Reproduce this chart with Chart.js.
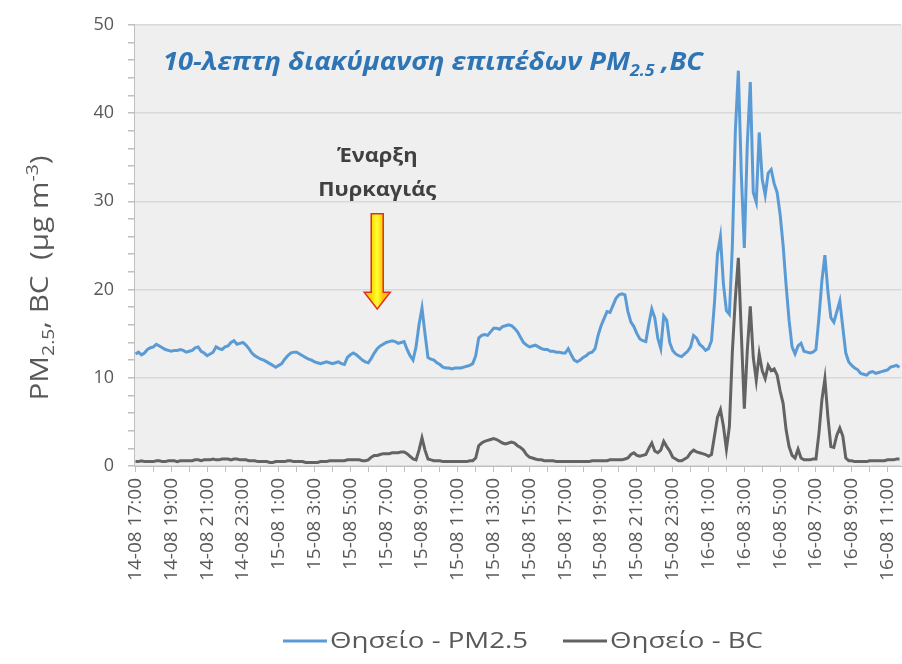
<!DOCTYPE html>
<html>
<head>
<meta charset="utf-8">
<script src="https://cdn.jsdelivr.net/npm/chart.js@4.4.1/dist/chart.umd.min.js"></script>
<style>
  html, body { margin: 0; padding: 0; background: #fff; }
  #wrap { width: 902px; height: 664px; }
</style>
</head>
<body>
<div id="wrap"><canvas id="c" width="902" height="664"></canvas></div>
<script>
// 10-min values, 14-08 17:00 -> 16-08 11:40
const pm25 = [
  12.7,12.9,12.6,12.8,13.2,13.4,
  13.5,13.8,13.6,13.4,13.2,13.1,
  13.0,13.1,13.1,13.2,13.1,12.9,
  13.0,13.1,13.4,13.5,13.0,12.8,
  12.5,12.7,12.9,13.5,13.3,13.2,
  13.5,13.6,14.0,14.2,13.8,13.9,
  14.0,13.7,13.3,12.8,12.5,12.3,
  12.1,12.0,11.8,11.6,11.4,11.2,
  11.4,11.6,12.1,12.5,12.8,12.9,
  12.9,12.7,12.5,12.3,12.1,12.0,
  11.8,11.7,11.6,11.7,11.8,11.7,
  11.6,11.7,11.8,11.6,11.5,12.3,
  12.6,12.8,12.6,12.3,12.0,11.8,
  11.7,12.2,12.8,13.3,13.6,13.8,
  14.0,14.1,14.2,14.1,13.9,14.0,
  14.1,13.2,12.5,12.0,13.5,16.0,
  17.9,15.0,12.3,12.1,12.0,11.7,
  11.5,11.2,11.1,11.1,11.0,11.1,
  11.1,11.1,11.2,11.3,11.4,11.6,
  12.5,14.5,14.8,14.9,14.8,15.2,
  15.6,15.6,15.5,15.8,15.9,16.0,
  15.9,15.6,15.2,14.6,14.0,13.7,
  13.5,13.6,13.7,13.5,13.3,13.2,
  13.2,13.0,13.0,12.9,12.9,12.8,
  12.8,13.3,12.6,12.0,11.8,12.0,
  12.3,12.5,12.8,12.9,13.3,14.8,
  15.9,16.7,17.5,17.4,18.2,19.0,
  19.4,19.5,19.4,17.5,16.3,15.8,
  15.0,14.4,14.2,14.1,16.1,17.8,
  16.8,14.5,13.3,17.0,16.5,14.0,
  13.1,12.7,12.5,12.4,12.7,13.0,
  13.5,14.8,14.5,13.8,13.5,13.1,
  13.3,14.2,18.5,24.0,26.0,20.6,
  17.6,17.2,25.0,38.0,44.8,33.0,
  24.7,36.5,43.5,31.0,29.9,37.8,
  32.5,30.7,33.2,33.6,32.0,31.0,
  28.5,25.0,20.5,16.5,13.5,12.7,
  13.6,13.9,13.0,12.9,12.8,12.9,
  13.2,16.8,21.0,23.9,19.8,16.8,
  16.3,17.5,18.7,15.7,12.8,11.8,
  11.4,11.1,10.9,10.5,10.4,10.3,
  10.6,10.7,10.5,10.6,10.7,10.8,
  10.9,11.2,11.3,11.4,11.2
];
const bc = [
  0.5,0.5,0.6,0.5,0.5,0.5,
  0.5,0.6,0.6,0.5,0.5,0.6,
  0.6,0.6,0.5,0.6,0.6,0.6,
  0.6,0.6,0.7,0.7,0.6,0.7,
  0.7,0.7,0.8,0.7,0.7,0.8,
  0.8,0.8,0.7,0.8,0.8,0.7,
  0.7,0.7,0.6,0.6,0.6,0.5,
  0.5,0.5,0.5,0.4,0.4,0.5,
  0.5,0.5,0.5,0.6,0.6,0.5,
  0.5,0.5,0.5,0.4,0.4,0.4,
  0.4,0.4,0.5,0.5,0.5,0.6,
  0.6,0.6,0.6,0.6,0.6,0.7,
  0.7,0.7,0.7,0.7,0.6,0.6,
  0.7,1.0,1.2,1.2,1.3,1.4,
  1.4,1.4,1.5,1.5,1.5,1.6,
  1.6,1.4,1.1,0.8,0.7,1.8,
  3.2,1.8,0.8,0.7,0.6,0.6,
  0.6,0.5,0.5,0.5,0.5,0.5,
  0.5,0.5,0.5,0.5,0.6,0.6,
  0.9,2.3,2.6,2.8,2.9,3.0,
  3.1,3.0,2.8,2.6,2.5,2.6,
  2.7,2.6,2.3,2.1,1.8,1.3,
  1.0,0.9,0.8,0.7,0.7,0.6,
  0.6,0.6,0.6,0.5,0.5,0.5,
  0.5,0.5,0.5,0.5,0.5,0.5,
  0.5,0.5,0.5,0.6,0.6,0.6,
  0.6,0.6,0.6,0.7,0.7,0.7,
  0.7,0.7,0.8,0.9,1.3,1.5,
  1.2,1.1,1.2,1.3,2.0,2.6,
  1.7,1.5,1.8,2.8,2.2,1.7,
  1.0,0.8,0.6,0.6,0.8,1.0,
  1.5,1.8,1.6,1.5,1.4,1.3,
  1.1,1.3,3.4,5.5,6.4,4.5,
  1.9,4.5,13.0,19.0,23.6,15.0,
  6.5,13.1,18.1,12.3,9.7,12.7,
  10.8,9.9,11.4,10.8,11.0,10.3,
  8.5,7.1,4.1,2.2,1.2,0.9,
  1.9,0.9,0.7,0.7,0.7,0.8,
  0.8,3.7,7.5,9.9,5.6,2.2,
  2.1,3.5,4.3,3.4,0.9,0.6,
  0.6,0.5,0.5,0.5,0.5,0.5,
  0.6,0.6,0.6,0.6,0.6,0.6,
  0.7,0.7,0.7,0.8,0.8
];
// one label every 2 hours (every 12th sample)
const tickLabels = [
  '14-08 17:00','14-08 19:00','14-08 21:00','14-08 23:00',
  '15-08 1:00','15-08 3:00','15-08 5:00','15-08 7:00','15-08 9:00','15-08 11:00',
  '15-08 13:00','15-08 15:00','15-08 17:00','15-08 19:00','15-08 21:00','15-08 23:00',
  '16-08 1:00','16-08 3:00','16-08 5:00','16-08 7:00','16-08 9:00','16-08 11:00'
];
const seriesNames = ['Θησείο - PM2.5', 'Θησείο - BC'];
const fireIndex = 81;   // arrow position (~15-08 6:30)

// category labels, 10-minute steps
const categories = [];
for (let i = 0; i < pm25.length; i++) {
  const mins = 17 * 60 + i * 10;
  const day = 14 + Math.floor(mins / 1440);
  const h = Math.floor((mins % 1440) / 60), m = mins % 60;
  categories.push(`${day}-08 ${h}:${String(m).padStart(2, '0')}`);
}

const FONT = '"Open Sans", sans-serif';
const TXT = '#595959';
const BLUE = '#5b9bd5';
const GREY = '#636363';

// text runs with sub/superscript parts; sx stretches along the text
function richWidth(ctx, parts, size, style) {
  let w = 0;
  for (const p of parts) {
    ctx.font = `${style} ${p.sub || p.sup ? size * 0.65 : size}px ${FONT}`;
    w += ctx.measureText(p.t).width;
  }
  return w;
}
function richText(ctx, parts, x, y, size, style, sx) {
  ctx.save();
  ctx.translate(x, y);
  ctx.scale(sx || 1, 1);
  ctx.textBaseline = 'alphabetic';
  ctx.textAlign = 'left';
  let cx = 0;
  for (const p of parts) {
    ctx.font = `${style} ${p.sub || p.sup ? size * 0.65 : size}px ${FONT}`;
    const dy = p.sub ? size * 0.22 : (p.sup ? -size * 0.4 : 0);
    ctx.fillText(p.t, cx, dy);
    cx += ctx.measureText(p.t).width;
  }
  ctx.restore();
}

const decor = {
  id: 'decor',
  beforeDraw(chart) {
    const { ctx, chartArea: a } = chart;
    ctx.save();
    ctx.fillStyle = '#efefef';
    ctx.fillRect(a.left, a.top, chart.width - a.left, a.bottom - a.top);
    ctx.restore();
  },
  afterDraw(chart) {
    const { ctx, chartArea: a } = chart;
    const xs = chart.scales.x, ys = chart.scales.y;
    ctx.save();

    // title inside plot
    ctx.fillStyle = '#2e75b6';
    const tp = [{ t: '10-λεπτη διακύμανση επιπέδων PM' }, { t: '2.5', sub: true }, { t: ' ,BC' }];
    richText(ctx, tp, 163, 70, 25, 'italic bold', 540 / richWidth(ctx, tp, 25, 'italic bold'));

    // y axis title, rotated
    ctx.fillStyle = TXT;
    const yt = [{ t: 'PM' }, { t: '2.5', sub: true }, { t: ', BC  (μg m' }, { t: '-3', sup: true }, { t: ')' }];
    const w = richWidth(ctx, yt, 26, 'normal');
    const ysx = 245 / w;
    ctx.save();
    ctx.translate(48, 278);
    ctx.rotate(-Math.PI / 2);
    richText(ctx, yt, -w * ysx / 2, 0, 26, 'normal', ysx);
    ctx.restore();

    // fire start annotation
    const ax = xs.getPixelForValue(fireIndex);
    ctx.fillStyle = '#404040';
    const l1 = [{ t: 'Έναρξη' }], l2 = [{ t: 'Πυρκαγιάς' }];
    const asx = 118 / richWidth(ctx, l2, 20, 'bold');
    richText(ctx, l1, ax - richWidth(ctx, l1, 20, 'bold') * asx / 2, ys.getPixelForValue(35.3) + 7, 20, 'bold', asx);
    richText(ctx, l2, ax - 59, ys.getPixelForValue(31.4) + 7, 20, 'bold', asx);

    const top = ys.getPixelForValue(28.6), neck = ys.getPixelForValue(19.7), tip = ys.getPixelForValue(17.8);
    ctx.beginPath();
    ctx.moveTo(ax - 6, top); ctx.lineTo(ax + 6, top); ctx.lineTo(ax + 6, neck);
    ctx.lineTo(ax + 13, neck); ctx.lineTo(ax, tip); ctx.lineTo(ax - 13, neck);
    ctx.lineTo(ax - 6, neck); ctx.closePath();
    const g = ctx.createLinearGradient(ax - 6, 0, ax + 6, 0);
    g.addColorStop(0, '#ffd700'); g.addColorStop(0.5, '#ffff33'); g.addColorStop(1, '#ffc000');
    ctx.fillStyle = g;
    ctx.fill();
    ctx.strokeStyle = '#e0301e';
    ctx.lineWidth = 1.5;
    ctx.stroke();

    // legend
    const items = chart.data.datasets.map(d => ({ label: [{ t: d.label }], color: d.borderColor }));
    const lsx = 198 / richWidth(ctx, items[0].label, 21, 'normal');
    const ly = 641;
    let lx = 283;
    items.forEach((it, k) => {
      if (k) lx += 35;
      ctx.strokeStyle = it.color; ctx.lineWidth = 3;
      ctx.beginPath(); ctx.moveTo(lx, ly); ctx.lineTo(lx + 44, ly); ctx.stroke();
      lx += 47;
      ctx.fillStyle = TXT;
      richText(ctx, it.label, lx, ly + 7, 21, 'normal', lsx);
      lx += richWidth(ctx, it.label, 21, 'normal') * lsx;
    });
    ctx.restore();
  }
};

new Chart(document.getElementById('c'), {
  type: 'line',
  data: {
    labels: categories,
    datasets: [
      { label: seriesNames[0], data: pm25, borderColor: BLUE, borderWidth: 3, pointRadius: 0, tension: 0 },
      { label: seriesNames[1], data: bc, borderColor: GREY, borderWidth: 3, pointRadius: 0, tension: 0 }
    ]
  },
  options: {
    responsive: false,
    animation: false,
    devicePixelRatio: 1,
    layout: { padding: { top: 20, right: 1, bottom: 0, left: 0 } },
    plugins: { legend: { display: false }, tooltip: { enabled: false } },
    scales: {
      x: {
        type: 'category',
        offset: true,
        afterFit(s) { s.height = 198; s.paddingLeft = 0; s.paddingRight = 0; },
        border: { display: true, color: '#bfbfbf', width: 1 },
        grid: { drawOnChartArea: false, drawTicks: true, tickLength: 6, color: '#bfbfbf' },
        ticks: {
          autoSkip: false, minRotation: 90, maxRotation: 90, padding: 6,
          color: TXT, font: { family: FONT, size: 19 },
          callback(v, i) { return i % 12 === 0 ? tickLabels[i / 12] : (i % 6 === 0 ? '' : null); }
        }
      },
      y: {
        min: 0, max: 50,
        afterFit(s) { s.width = 134; },
        border: { display: true, color: '#bfbfbf', width: 1 },
        grid: {
          color: c => (c.tick && c.tick.value % 10 === 0 ? '#d9d9d9' : 'rgba(0,0,0,0)'),
          tickColor: '#bfbfbf', tickLength: 6, lineWidth: 1.5
        },
        ticks: {
          autoSkip: false, stepSize: 2, padding: 14, color: TXT, font: { family: FONT, size: 18 },
          callback: v => (v % 10 === 0 ? v : '')
        }
      }
    }
  },
  plugins: [decor]
});
</script>
</body>
</html>
